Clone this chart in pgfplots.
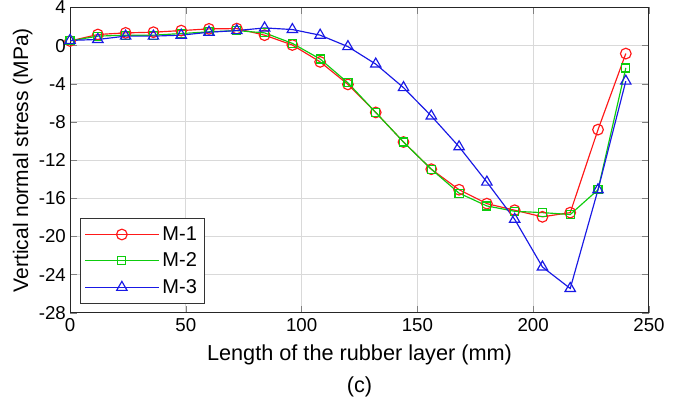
\documentclass[border=0pt]{standalone}
\usepackage{fontspec}
\setmainfont{Liberation Sans}
\usepackage{pgfplots}
\pgfplotsset{compat=1.18}
\usetikzlibrary{calc}
\definecolor{mred}{rgb}{1,0.1,0.1}
\definecolor{mgreen}{rgb}{0.05,0.8,0.05}
\definecolor{mblue}{rgb}{0.1,0.1,0.9}
\begin{document}
\begin{tikzpicture}
\begin{axis}[name=ax,
  scale only axis, width=347pt, height=183pt,
  xmin=0, xmax=250, ymin=-28, ymax=4,
  xtick={0,50,...,250}, ytick={-28,-24,...,4},
  tick align=inside, major tick length=4pt,
  xtick pos=both, ytick pos=both,
  grid=major, grid style={gray!30, line width=0.6pt},
  axis line style={black!85, line width=0.6pt},
  font=\fontsize{11.2}{13.5}\selectfont,
  /pgf/number format/assume math mode=true,
  xlabel={Length of the rubber layer (mm)\\[4pt](c)},
  xlabel style={align=center, yshift=-1pt, font=\fontsize{13}{15}\selectfont},
  ylabel={Vertical normal stress (MPa)},
  ylabel style={yshift=-3pt, font=\fontsize{12.6}{15}\selectfont},
  yticklabel style={xshift=1pt},
  legend style={at={(0.017,0.03)}, anchor=south west, draw=black!80, line width=0.6pt,
    font=\fontsize{12}{14}\selectfont, row sep=2pt, inner sep=2.5pt},
  legend cell align=left,
  legend image code/.code={\draw[mark repeat=2,mark phase=2] plot coordinates {(0pt,0pt) (22pt,0pt) (44pt,0pt)};},
]
\addplot[mred, line width=0.7pt, mark=o, mark size=3.2pt, mark options={line width=0.7pt}] coordinates {
(0,0.49) (12,1.17) (24,1.34) (36,1.41) (48,1.58) (60,1.76) (72,1.79) (84,1.1) (96,0.07)
(108,-1.7) (120,-4.06) (132,-7.0) (144,-10.1) (156,-12.95) (168,-15.1) (180,-16.56)
(192,-17.25) (204,-17.94) (216,-17.5) (228,-8.8) (240,-0.83)};
\addlegendentry{M-1}
\addplot[mgreen, line width=0.7pt, mark=square, mark size=2.4pt, mark options={line width=0.7pt}] coordinates {
(0,0.5) (12,1.0) (24,1.1) (36,1.1) (48,1.27) (60,1.45) (72,1.58) (84,1.34) (96,0.24)
(108,-1.4) (120,-3.9) (132,-7.0) (144,-10.1) (156,-12.95) (168,-15.46) (180,-16.8)
(192,-17.36) (204,-17.5) (216,-17.7) (228,-15.1) (240,-2.34)};
\addlegendentry{M-2}
\addplot[mblue, line width=0.7pt, mark=triangle, mark size=3.6pt, mark options={line width=0.7pt}] coordinates {
(0,0.55) (12,0.65) (24,1.0) (36,1.0) (48,1.1) (60,1.41) (72,1.58) (84,1.86) (96,1.69)
(108,1.1) (120,-0.1) (132,-1.93) (144,-4.4) (156,-7.37) (168,-10.6) (180,-14.3)
(192,-18.2) (204,-23.2) (216,-25.45) (228,-15.1) (240,-3.72)};
\addlegendentry{M-3}
\end{axis}
\pgfresetboundingbox
\path[use as bounding box] ($(ax.south west)+(-42pt,-62.5pt)$) rectangle ($(ax.north east)+(20.4pt,4.5pt)$);
\end{tikzpicture}
\end{document}
